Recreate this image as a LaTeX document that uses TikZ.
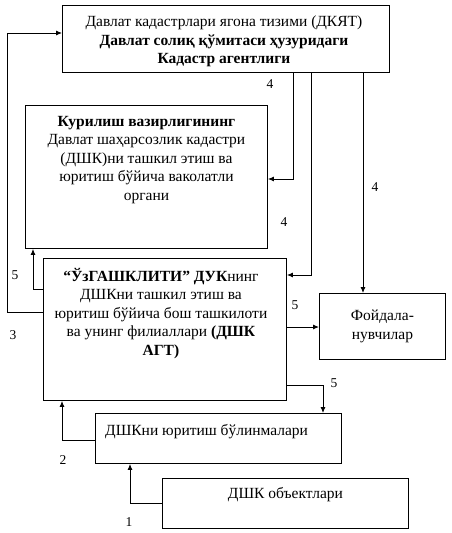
\documentclass[tikz,border=0pt]{standalone}
\usepackage{fontspec}
\setmainfont{Liberation Serif}
\usetikzlibrary{arrows.meta,positioning}

\begin{document}
\begin{tikzpicture}[x=1pt,y=-1pt,
    box/.style={draw,line width=0.9pt,anchor=north west,inner sep=0pt,
      font=\fontsize{15.5}{18.5}\selectfont,align=center},
    txt/.style={inner sep=0pt,font=\fontsize{15.5}{18.5}\selectfont,align=center},
    arr/.style={line width=0.9pt,-{Latex[length=6pt,width=5pt]}},
    num/.style={font=\fontsize{13.5}{15}\selectfont}]
  \useasboundingbox (0,0) rectangle (451,533);

  \node[box,minimum width=327pt,minimum height=67pt] (dkyat) at (62,5) {};
  \node[txt,below=11pt of dkyat.north,xshift=-2pt] (dkyattxt)
    {Давлат кадастрлари ягона тизими (ДКЯТ)\\
     \textbf{Давлат солиқ қўмитаси ҳузуридаги}\\
     \textbf{Кадастр агентлиги}};
  \node[box,minimum width=242pt,minimum height=143pt] (kur) at (25,105) {};
  \node[txt,below=11pt of kur.north] (kurtxt)
    {\textbf{Курилиш вазирлигининг}\\ Давлат шаҳарсозлик кадастри\\
     (ДШК)ни ташкил этиш ва\\ юритиш бўйича ваколатли\\ органи};
  \node[box,minimum width=243pt,minimum height=142pt] (duk) at (43,258) {};
  \node[txt,below=10pt of duk.north,xshift=-4pt] (duktxt)
    {\textbf{“ЎзГАШКЛИТИ” ДУК}нинг\\ ДШКни ташкил этиш ва\\
     юритиш бўйича бош ташкилоти\\ ва унинг филиаллари \textbf{(ДШК}\\ \textbf{АГТ)}};
  \node[box,minimum width=126pt,minimum height=66pt] (foyd) at (319,293)
    {Фойдала-\\ нувчилар};
  \node[box,minimum width=246pt,minimum height=50pt] (bolin) at (95,413) {};
  \node[txt,anchor=west] (bolintxt) at (105,432) {ДШКни юритиш бўлинмалари};
  \node[box,minimum width=246pt,minimum height=50pt] (obekt) at (162,478)
    {ДШК объектлари\\[2pt]};

  \draw[arr] (293,0 |- dkyat.south) -- (293,179) -- (kur.east |- 0,179);
  \draw[arr] (311,0 |- dkyat.south) -- (311,275) -- (duk.east |- 0,275);
  \draw[arr] (363,0 |- dkyat.south) -- (363,0 |- foyd.north);
  \draw[arr] (duk.west |- 0,289) -- (33,289) -- (33,0 |- kur.south);
  \draw[arr] (duk.west |- 0,312) -- (7,312) -- (7,33) -- (dkyat.west |- 0,33);
  \draw[arr] (duk.east |- 0,327) -- (foyd.west |- 0,327);
  \draw[arr] (duk.east |- 0,385) -- (323,385) -- (323,0 |- bolin.north);
  \draw[arr] (bolin.west |- 0,440) -- (62,440) -- (62,0 |- duk.south);
  \draw[arr] (obekt.west |- 0,503) -- (130,503) -- (130,0 |- bolin.south);

  \node[num] (n4a) at (270,84) {4};
  \node[num] (n4b) at (375,187) {4};
  \node[num] (n4c) at (284,222) {4};
  \node[num] (n5a) at (15,275) {5};
  \node[num] (n3) at (13,335) {3};
  \node[num] (n5b) at (295,305) {5};
  \node[num] (n5c) at (334,383) {5};
  \node[num] (n2) at (63,460) {2};
  \node[num] (n1) at (129,522) {1};
\end{tikzpicture}
\end{document}
